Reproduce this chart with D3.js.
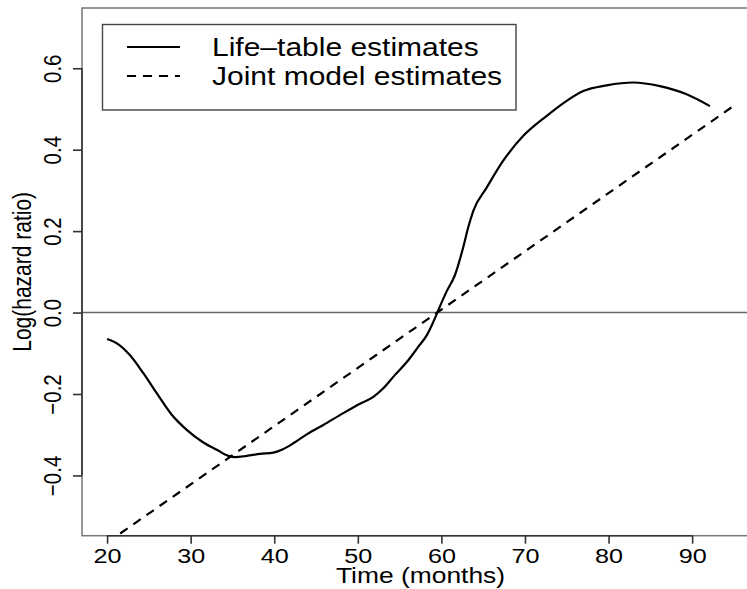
<!DOCTYPE html>
<html lang="en">
  <head>
    <meta charset="utf-8">
    <script src="https://d3js.org/d3.v7.min.js"></script>
    <style>
      body { margin: 0; background: #fff; }
      text { font-family: "Liberation Sans", Arial, Helvetica, sans-serif; fill: #000; }
    </style>
  </head>
  <body>
    <svg width="747" height="589"></svg>
    <script>
      // Life-table estimates (time in months, log hazard ratio)
      var lifeTime = [20, 21.35, 22.75, 24.34, 25.94, 27.74, 29.53, 31.52, 33.12, 34.51, 35.31,
        36.71, 38.3, 39.9, 40.9, 42.29, 43.89, 45.87, 48.27, 50.26, 51.86, 53.05, 54.45,
        56.04, 57.2, 58.24, 59.03, 59.63, 60.63, 61.6, 62.62, 63.22, 63.82, 65.42, 67.4,
        69.8, 72.6, 74.99, 76.98, 79.77, 82.96, 86.15, 89.34, 92.13];
      var lifeValue = [-0.065, -0.078, -0.105, -0.149, -0.198, -0.251, -0.288, -0.319, -0.337, -0.352, -0.355,
        -0.352, -0.347, -0.344, -0.337, -0.321, -0.299, -0.276, -0.247, -0.224, -0.207, -0.186, -0.153,
        -0.117, -0.085, -0.056, -0.023, 0.006, 0.052, 0.091, 0.161, 0.210, 0.250, 0.307, 0.373,
        0.434, 0.483, 0.520, 0.544, 0.558, 0.565, 0.556, 0.536, 0.507];
      // Joint model estimates (straight line)
      var jointTime = [20, 95];
      var jointValue = [-0.565, 0.508];
      var xTicks = [20, 30, 40, 50, 60, 70, 80, 90];
      var yTicks = [-0.4, -0.2, 0.0, 0.2, 0.4, 0.6];
      var legendLabels = ["Life\u2013table estimates", "Joint model estimates"];

      var svg = d3.select("svg");
      var pLeft = 82, pRight = 759, pTop = 8, pBottom = 535.7;
      var sx = 1.2; // text is a bit wider than tall in the original

      var x = d3.scaleLinear().domain([17, 98]).range([pLeft, pRight]);
      var y = d3.scaleLinear().domain([-0.548, 0.748]).range([pBottom, pTop]);

      svg.append("clipPath").attr("id", "plotclip")
        .append("rect")
          .attr("x", pLeft).attr("y", pTop)
          .attr("width", pRight - pLeft).attr("height", pBottom - pTop);

      // zero reference line
      svg.append("line")
        .attr("x1", pLeft).attr("x2", pRight)
        .attr("y1", y(0)).attr("y2", y(0))
        .style("stroke", "#666")
        .style("stroke-width", 1.4);

      var line = d3.line()
        .x(function(d) { return x(d[0]); })
        .y(function(d) { return y(d[1]); });

      var plot = svg.append("g").attr("clip-path", "url(#plotclip)");

      plot.append("path")
        .datum(d3.zip(jointTime, jointValue))
        .attr("d", line)
        .style("fill", "none")
        .style("stroke", "#000")
        .style("stroke-width", 2.2)
        .style("stroke-dasharray", "9,7");

      plot.append("path")
        .datum(d3.zip(lifeTime, lifeValue))
        .attr("d", line.curve(d3.curveMonotoneX))
        .style("fill", "none")
        .style("stroke", "#000")
        .style("stroke-width", 2.2);

      // plot box
      svg.append("rect")
        .attr("x", pLeft).attr("y", pTop)
        .attr("width", pRight - pLeft).attr("height", pBottom - pTop)
        .style("fill", "none")
        .style("stroke", "#777")
        .style("stroke-width", 1.5);

      // x axis
      var xAxis = svg.append("g")
        .attr("transform", "translate(0," + pBottom + ")")
        .call(d3.axisBottom(x).tickValues(xTicks).tickSizeOuter(0).tickSizeInner(8));
      xAxis.select(".domain").attr("d", "M" + x(xTicks[0]) + ",0H" + x(xTicks[xTicks.length - 1]));
      xAxis.selectAll("path, line").style("stroke", "#333").style("stroke-width", 1.6);
      xAxis.selectAll("text")
        .attr("y", null).attr("dy", null)
        .style("font-size", "21px")
        .attr("transform", "translate(0,27) scale(" + sx + ",1)");

      // y axis
      var yAxis = svg.append("g")
        .attr("transform", "translate(" + pLeft + ",0)")
        .call(d3.axisLeft(y).tickValues(yTicks).tickSizeOuter(0).tickSizeInner(9)
          .tickFormat(function(d) { return d3.format(".1f")(d).replace("-", "\u2212"); }));
      yAxis.select(".domain").attr("d", "M0," + y(yTicks[0]) + "V" + y(yTicks[yTicks.length - 1]));
      yAxis.selectAll("path, line").style("stroke", "#333").style("stroke-width", 1.6);
      yAxis.selectAll("text")
        .attr("x", null).attr("dy", null).attr("y", null)
        .style("font-size", "20.5px")
        .style("text-anchor", "middle")
        .attr("transform", "translate(-21,0) scale(" + sx + ",1) rotate(-90)");

      // axis titles
      svg.append("text")
        .attr("transform", "translate(" + x(57.5) + ",583) scale(" + sx + ",1)")
        .style("text-anchor", "middle")
        .style("font-size", "22px")
        .text("Time (months)");

      svg.append("text")
        .attr("transform", "translate(31," + ((pTop + pBottom) / 2) + ") scale(" + sx + ",1) rotate(-90)")
        .style("text-anchor", "middle")
        .style("font-size", "21px")
        .text("Log(hazard ratio)");

      // legend
      var legend = svg.append("g");
      legend.append("rect")
        .attr("x", 102.5).attr("y", 24.5)
        .attr("width", 413.5).attr("height", 85.5)
        .style("fill", "#fff")
        .style("stroke", "#444")
        .style("stroke-width", 1.4);

      var rows = legend.selectAll("g.row")
        .data(legendLabels)
        .enter().append("g")
          .attr("class", "row")
          .attr("transform", function(d, i) { return "translate(0," + (47 + i * 29) + ")"; });
      rows.append("line")
        .attr("x1", 127).attr("x2", 180)
        .style("stroke", "#000")
        .style("stroke-width", 2.2)
        .style("stroke-dasharray", function(d, i) { return i == 0 ? null : "9,7"; });
      rows.append("text")
        .attr("transform", "translate(212,9) scale(" + sx + ",1)")
        .style("font-size", "25px")
        .text(function(d) { return d; });
    </script>
  </body>
</html>
